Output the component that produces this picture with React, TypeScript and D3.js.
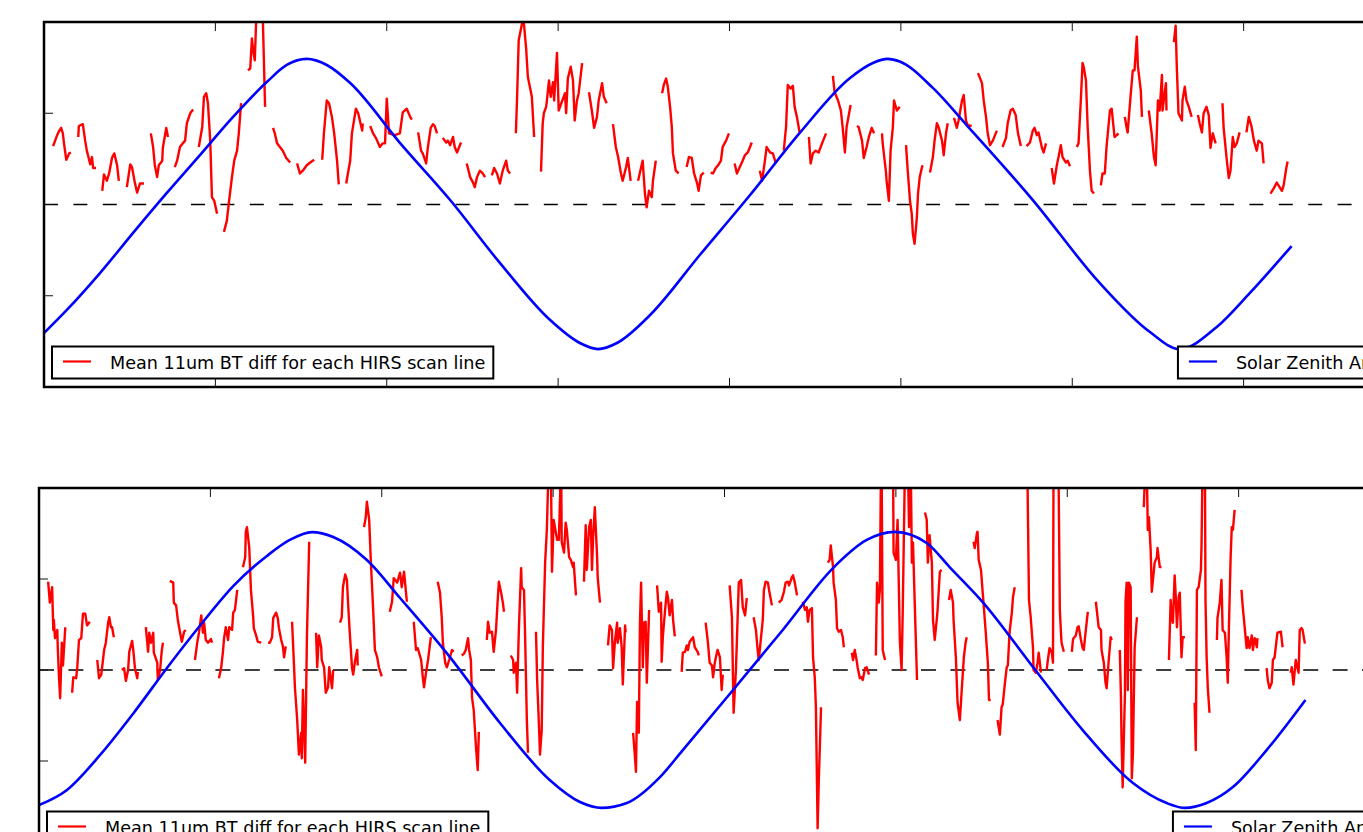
import React, { useEffect, useRef } from 'react';
import * as d3 from 'd3';

type Pt = [number, number];

// x = HIRS scan line, y = mean 11um BT difference (K); one array per unbroken run of the trace
const topBtDiff: Pt[][] = [
  [[16,0.64],[23,0.76],[26,0.80],[30,0.84],[33,0.78],[35,0.67],[39,0.49],[42,0.53],[44,0.56],[47,0.57]],
  [[60,0.74],[61,0.86],[68,0.88],[72,0.70],[75,0.59],[77,0.54],[81,0.44],[84,0.52],[86,0.40],[91,0.40]],
  [[102,0.15],[105,0.33],[110,0.26],[114,0.34],[119,0.51],[123,0.56],[128,0.43],[131,0.26]],
  [[145,0.19],[151,0.44],[154,0.41],[159,0.24],[163,0.13],[168,0.23],[175,0.23]],
  [[187,0.78],[191,0.63],[194,0.43],[198,0.30],[201,0.43],[207,0.48],[208,0.62],[214,0.84],[217,0.74]],
  [[229,0.41],[233,0.48],[238,0.63],[243,0.67],[247,0.70],[250,0.89],[256,1.00],[261,1.04]],
  [[271,0.63],[277,0.85],[280,1.18],[284,1.22],[287,1.11],[291,0.70],[294,0.08],[298,0.04],[303,-0.10]],
  [[315,-0.30],[320,-0.18],[324,0.04],[329,0.30],[333,0.48],[338,0.59],[341,0.78],[345,1.11]],
  [[357,1.47],[361,1.49],[364,1.82],[366,1.69],[369,1.58],[373,2.3],[378,2.4],[382,2.3],[387,1.07]],
  [[401,0.84],[404,0.78],[408,0.67],[413,0.63],[418,0.59],[424,0.51],[431,0.46]],
  [[443,0.45],[448,0.34],[453,0.37],[460,0.43],[466,0.46],[473,0.49]],
  [[487,0.49],[490,0.78],[495,1.14],[499,1.11],[504,0.96],[508,0.78],[513,0.48],[516,0.22]],
  [[529,0.23],[532,0.34],[536,0.48],[539,0.78],[546,1.05],[550,1.00],[557,0.81],[558,0.89]],
  [[571,0.86],[576,0.78],[581,0.73],[588,0.63],[593,0.67],[597,0.67],[600,1.16],[604,0.78],[614,0.76],[623,0.78],[628,1.01],[635,1.05],[641,0.96],[644,0.93]],
  [[655,0.79],[660,0.59],[663,0.56],[669,0.45],[672,0.63],[677,0.84],[681,0.88],[684,0.86],[688,0.78]],
  [[698,0.73],[704,0.68],[707,0.70],[711,0.65],[716,0.74],[719,0.63],[723,0.57],[730,0.68]],
  [[740,0.45],[746,0.30],[751,0.24],[754,0.19],[758,0.30],[763,0.37],[768,0.34],[772,0.30]],
  [[784,0.32],[788,0.40],[793,0.34],[798,0.23],[803,0.37],[809,0.48],[812,0.37],[816,0.34]],
  [[826,0.78],[828,1.14],[831,1.80],[837,1.99],[840,1.99],[844,1.71],[847,1.40],[854,1.18],[858,0.74]],
  [[870,0.36],[873,0.89],[875,1.00],[879,1.07],[880,1.12],[884,1.36],[887,1.18],[891,1.34],[893,1.14],[898,1.66],[901,1.03],[912,1.22],[914,1.00],[917,1.38],[922,1.51],[926,1.36],[929,0.92],[933,1.14],[936,1.22],[942,1.55]],
  [[954,1.23],[959,1.03],[963,0.84],[968,0.96],[971,1.14],[977,1.33],[980,1.18],[985,1.11]],
  [[996,0.88],[1001,0.63],[1005,0.52],[1010,0.34],[1013,0.26],[1019,0.41],[1022,0.51],[1027,0.26]],
  [[1040,0.26],[1045,0.40],[1048,0.48],[1052,0.12],[1055,-0.03],[1059,0.15],[1064,0.08],[1066,0.26],[1071,0.48]],
  [[1082,1.22],[1085,1.31],[1089,1.38],[1092,1.29],[1096,1.07],[1099,0.85],[1101,0.56],[1106,0.37],[1111,0.34]],
  [[1125,0.41],[1129,0.52],[1134,0.51],[1138,0.34],[1143,0.24],[1146,0.15],[1150,0.32],[1155,0.35]],
  [[1167,0.35],[1171,0.34],[1176,0.40],[1180,0.43],[1185,0.48],[1188,0.63],[1194,0.70],[1199,0.78]],
  [[1209,0.45],[1213,0.34],[1218,0.41],[1223,0.48],[1227,0.54],[1232,0.57],[1239,0.68]],
  [[1253,0.37],[1257,0.26],[1262,0.48],[1265,0.63],[1271,0.57],[1276,0.56],[1281,0.45]],
  [[1295,0.59],[1299,0.85],[1302,1.31],[1307,1.27],[1311,1.30],[1314,1.07],[1318,0.96],[1323,0.78]],
  [[1339,0.74],[1342,0.45],[1346,0.56],[1351,0.59],[1356,0.57],[1362,0.67],[1369,0.78]],
  [[1381,1.41],[1384,1.23],[1390,1.14],[1395,1.03],[1398,0.85],[1402,0.57],[1405,0.85],[1412,1.09]],
  [[1423,0.86],[1426,0.85],[1432,0.70],[1435,0.51],[1440,0.63],[1444,0.74],[1449,0.84],[1453,0.78]],
  [[1467,0.78],[1468,0.68],[1474,0.35],[1475,0.26],[1479,0.04],[1482,0.59],[1486,0.85],[1488,1.14],[1493,1.03],[1498,1.07]],
  [[1509,0.65],[1512,0.37],[1516,0.04],[1519,-0.10],[1521,-0.32],[1524,-0.43],[1528,-0.14],[1530,0.12],[1533,0.30],[1537,0.41],[1538,0.43]],
  [[1551,0.35],[1556,0.52],[1559,0.70],[1563,0.89],[1566,0.85],[1572,0.70],[1575,0.54],[1579,0.78],[1582,0.89]],
  [[1593,0.95],[1598,0.84],[1601,0.92],[1607,1.14],[1610,1.20],[1614,0.92],[1617,0.87],[1624,0.86]],
  [[1635,1.44],[1642,1.33],[1645,1.14],[1649,0.96],[1652,0.78],[1656,0.65],[1661,0.70],[1668,0.81]],
  [[1678,0.63],[1684,0.73],[1687,0.89],[1692,1.03],[1696,1.05],[1701,0.98],[1705,0.78],[1710,0.64]],
  [[1720,0.64],[1726,0.68],[1731,0.81],[1734,0.84],[1738,0.76],[1741,0.79],[1747,0.62],[1750,0.57],[1754,0.67]],
  [[1764,0.40],[1768,0.23],[1773,0.43],[1776,0.52],[1780,0.65],[1783,0.52],[1789,0.46],[1792,0.48],[1796,0.42]],
  [[1808,0.63],[1811,0.67],[1815,1.14],[1818,1.55],[1820,1.51],[1824,1.36],[1827,0.85],[1831,0.37],[1834,0.15],[1838,0.12]],
  [[1850,0.21],[1853,0.34],[1857,0.34],[1860,0.63],[1866,1.03],[1869,1.05],[1874,0.74],[1878,0.76],[1881,0.78]],
  [[1892,0.96],[1895,0.85],[1897,0.79],[1902,1.18],[1906,1.47],[1909,1.47],[1913,1.84],[1915,1.51],[1920,1.25],[1922,0.96]],
  [[1934,1.03],[1939,0.78],[1943,0.52],[1946,0.43],[1950,1.14],[1953,1.03],[1957,1.42],[1958,1.03],[1964,1.33],[1965,1.03]],
  [[1978,1.78],[1981,1.96],[1983,1.51],[1986,1.00],[1992,0.92],[1993,1.14],[1997,1.29],[2000,1.14],[2004,1.07],[2009,0.96]],
  [[2020,0.98],[2023,0.89],[2027,0.79],[2030,1.00],[2035,1.07],[2039,0.98],[2042,0.62],[2046,0.78],[2051,0.67]],
  [[2063,1.11],[2065,0.84],[2070,0.52],[2074,0.29],[2077,0.37],[2081,0.74],[2084,0.63],[2088,0.67],[2093,0.79]],
  [[2105,0.79],[2109,0.96],[2114,0.85],[2118,0.70],[2123,0.59],[2126,0.70],[2132,0.67],[2135,0.45]],
  [[2147,0.12],[2153,0.18],[2158,0.24],[2161,0.21],[2167,0.15],[2170,0.21],[2175,0.41],[2177,0.47]],
];

const bottomBtDiff: Pt[][] = [
  [[16,0.97],[19,0.74],[23,0.91],[25,0.44],[26,0.55],[28,0.35],[32,0.44],[33,0.22],[35,-0.08],[37,-0.31],[40,0.30],[42,0.05],[46,0.47]],
  [[58,-0.25],[60,-0.08],[65,-0.09],[67,0.03],[70,0.33],[74,0.35],[77,0.62],[81,0.62],[84,0.49],[89,0.53]],
  [[102,0.11],[105,-0.09],[109,-0.05],[112,0.11],[114,0.22],[117,0.30],[121,0.52],[123,0.58],[126,0.47],[128,0.47],[131,0.36]],
  [[145,0.00],[149,0.02],[152,-0.12],[156,0.00],[158,0.20],[163,0.32],[165,0.22],[168,0.02],[172,-0.09],[173,-0.02]],
  [[187,0.47],[191,0.20],[193,0.41],[196,0.30],[200,0.41],[201,0.19],[207,0.08],[208,-0.11],[212,0.00],[215,0.22],[217,0.30]],
  [[229,0.98],[235,0.96],[236,0.74],[240,0.71],[243,0.55],[247,0.41],[250,0.31],[254,0.42],[257,0.44]],
  [[273,0.11],[277,0.30],[280,0.41],[284,0.60],[287,0.41],[289,0.52],[292,0.33],[296,0.30],[301,0.34],[303,0.30]],
  [[315,-0.09],[319,0.03],[322,0.20],[324,0.35],[327,0.47],[331,0.33],[333,0.47],[338,0.44],[340,0.63],[343,0.66],[347,0.88]],
  [[357,1.13],[361,1.24],[362,1.52],[364,1.57],[368,1.35],[371,0.88],[375,0.58],[376,0.46],[380,0.38],[383,0.31],[389,0.30]],
  [[401,0.30],[404,0.30],[408,0.36],[410,0.57],[415,0.63],[418,0.57],[420,0.46],[424,0.33],[427,0.26],[429,0.14],[432,0.26]],
  [[443,0.53],[446,0.11],[448,-0.19],[452,-0.55],[455,-0.93],[459,-0.69],[460,-0.97],[462,-0.22],[466,-1.02],[469,0.36],[473,1.41]],
  [[485,0.41],[487,0.03],[490,0.38],[494,0.25],[495,0.11],[499,0.03],[502,-0.25],[506,-0.19],[508,0.03],[513,-0.20],[515,0.00]],
  [[527,0.52],[530,0.58],[532,0.91],[536,1.05],[539,0.99],[541,0.74],[544,0.41],[548,0.02],[550,-0.05],[553,0.09],[557,0.22],[558,0.05]],
  [[569,1.57],[572,1.68],[574,1.85],[578,1.65],[581,1.18],[585,0.66],[588,0.22],[592,0.14],[595,0.03],[600,-0.07]],
  [[614,0.64],[618,0.75],[621,1.01],[627,0.96],[632,1.07],[635,0.91],[639,1.08],[644,0.75]],
  [[656,0.53],[660,0.22],[663,0.24],[669,0.11],[672,-0.09],[674,-0.19],[677,-0.05],[681,0.11],[686,0.36]],
  [[698,0.97],[702,0.85],[705,0.58],[707,0.30],[711,0.08],[714,0.03],[718,0.11],[723,0.22],[726,0.20]],
  [[740,0.16],[744,0.18],[747,0.22],[751,0.35],[753,0.22],[756,0.11],[758,-0.30],[761,-0.44],[765,-0.85],[768,-1.10],[770,-0.68]],
  [[784,0.33],[786,0.53],[789,0.41],[793,0.42],[796,0.20],[800,0.44],[803,0.77],[805,0.97],[809,0.85],[812,0.74],[814,0.64]],
  [[826,0.16],[830,0.11],[831,-0.03],[835,0.08],[837,-0.25],[840,0.44],[844,1.12],[845,0.91],[849,0.88],[851,0.36],[854,-0.55],[856,-0.91]],
  [[870,0.42],[872,-0.11],[875,-0.58],[877,-0.93],[880,-0.66],[882,0.25],[886,1.18],[889,1.54],[891,2.00],[893,2.3],[896,2.3],[898,1.08],[901,1.65],[907,1.43],[910,1.43],[914,2.3],[915,1.41],[919,1.29],[922,1.62],[924,1.54],[928,1.24],[931,1.21],[935,1.13],[936,1.18],[940,0.82]],
  [[954,0.97],[957,1.59],[959,1.10],[963,1.57],[966,1.65],[968,1.10],[970,1.46],[973,1.79],[977,1.24],[978,1.02],[982,0.74]],
  [[996,0.27],[999,0.49],[1003,0.44],[1005,0.02],[1008,0.30],[1012,0.52],[1013,0.30],[1017,0.46],[1020,0.25],[1022,-0.16],[1026,0.49],[1027,0.41]],
  [[1040,-0.69],[1043,-0.93],[1045,-1.12],[1047,-0.35],[1050,-0.69],[1052,0.52],[1054,0.96],[1057,0.03],[1059,0.52],[1062,0.53],[1064,-0.14],[1068,0.66]],
  [[1082,0.93],[1085,0.64],[1089,0.74],[1090,0.09],[1092,0.36],[1096,0.66],[1099,0.86],[1101,0.80],[1104,0.60],[1108,0.77],[1110,0.55],[1113,0.37]],
  [[1125,-0.02],[1127,0.19],[1131,0.20],[1134,0.27],[1136,0.22],[1139,0.31],[1145,0.36],[1148,0.25],[1153,0.20],[1155,0.16]],
  [[1167,0.52],[1171,0.30],[1174,0.08],[1178,0.05],[1180,-0.08],[1183,0.08],[1187,0.20],[1188,0.22],[1192,0.14],[1195,-0.22],[1197,-0.05]],
  [[1209,0.93],[1213,0.58],[1215,-0.14],[1216,-0.47],[1220,0.00],[1223,0.58],[1225,0.96],[1229,0.99],[1232,0.69],[1236,0.60],[1239,0.79]],
  [[1251,0.58],[1255,0.44],[1258,0.22],[1260,0.11],[1264,0.36],[1267,0.55],[1269,0.88],[1272,0.97],[1276,0.96],[1278,0.88],[1283,0.71]],
  [[1295,0.74],[1300,0.77],[1304,0.86],[1307,0.96],[1311,0.97],[1313,0.93],[1318,1.02],[1320,1.04],[1323,0.96],[1327,0.82]],
  [[1337,0.75],[1341,0.66],[1344,0.69],[1346,0.53],[1349,0.66],[1353,0.68],[1355,0.14],[1358,-0.08],[1360,-0.41],[1362,-1.29],[1363,-1.74],[1365,-1.24],[1369,-0.41]],
  [[1381,1.18],[1384,1.21],[1386,1.37],[1390,1.13],[1391,0.96],[1395,0.77],[1397,0.46],[1400,0.42],[1404,0.44],[1407,0.36],[1409,0.25]],
  [[1423,0.19],[1425,0.11],[1428,0.22],[1432,0.08],[1433,0.03],[1437,-0.09],[1440,-0.08],[1442,-0.11],[1446,0.02],[1449,0.03],[1453,-0.05]],
  [[1465,0.16],[1467,0.96],[1470,0.74],[1472,0.88],[1474,2.3],[1475,2.3],[1477,0.22],[1481,0.11]],
  [[1495,2.3],[1496,1.29],[1500,1.21],[1503,1.65],[1507,0.31],[1510,0.00],[1512,0.64],[1516,2.3],[1521,2.3],[1523,1.57],[1524,2.3],[1526,2.3],[1528,1.18],[1530,1.40],[1533,0.74],[1537,-0.11]],
  [[1551,1.73],[1554,1.65],[1556,1.18],[1559,1.48],[1563,1.18],[1565,0.55],[1568,0.33],[1572,0.58],[1573,0.66],[1577,1.08],[1580,1.10]],
  [[1593,0.77],[1596,0.88],[1600,0.74],[1601,0.55],[1605,0.14],[1608,-0.36],[1612,-0.55],[1615,-0.25],[1619,0.14],[1622,0.30],[1624,0.36]],
  [[1636,1.41],[1638,1.34],[1642,1.51],[1643,1.52],[1645,1.21],[1649,1.10],[1652,0.85],[1654,0.69],[1657,0.44],[1661,0.08],[1663,-0.33],[1666,-0.33]],
  [[1678,-0.55],[1682,-0.71],[1685,-0.41],[1687,-0.38],[1691,-0.14],[1694,0.03],[1696,0.05],[1699,0.41],[1703,0.63],[1705,0.80],[1708,0.91]],
  [[1730,2.3],[1733,0.77],[1736,0.58],[1740,0.25],[1741,0.00],[1745,-0.03],[1748,0.08],[1750,0.19],[1754,-0.03]],
  [[1764,0.00],[1766,0.11],[1769,0.24],[1773,0.19],[1775,0.08],[1776,2.3],[1783,2.3],[1785,2.00],[1787,0.66],[1789,0.41],[1790,0.30],[1794,0.20]],
  [[1808,0.20],[1810,0.33],[1811,0.35],[1815,0.38],[1818,0.47],[1820,0.48],[1824,0.33],[1827,0.24],[1829,0.22],[1832,0.41],[1836,0.64]],
  [[1850,0.75],[1852,0.64],[1855,0.47],[1859,0.44],[1860,0.22],[1864,0.08],[1867,-0.14],[1869,-0.20],[1873,0.14],[1876,0.36],[1878,0.33]],
  [[1892,0.22],[1894,-0.30],[1895,-0.74],[1897,-1.29],[1901,-0.25],[1902,0.75],[1904,0.96],[1906,-0.22],[1908,0.96],[1911,0.91],[1913,-1.19],[1915,-0.91],[1918,0.25],[1922,0.58]],
  [[1934,1.79],[1937,2.3],[1939,2.3],[1941,1.54],[1943,1.68],[1946,1.32],[1948,0.86],[1950,0.99],[1953,1.18],[1957,1.24],[1958,1.34],[1962,1.13],[1965,1.13]],
  [[1978,0.11],[1981,0.77],[1983,0.58],[1985,0.52],[1988,1.04],[1990,0.80],[1992,0.47],[1995,0.80],[1997,0.85],[2000,0.14],[2002,0.36],[2006,0.36]],
  [[2023,-0.36],[2025,-0.88],[2027,0.88],[2030,0.91],[2034,1.10],[2035,1.35],[2037,2.3],[2041,2.3],[2042,0.77],[2044,0.14],[2046,-0.19],[2049,-0.47]],
  [[2062,0.33],[2063,0.57],[2067,0.74],[2070,0.99],[2072,0.44],[2076,0.41],[2079,0.14],[2081,-0.14],[2083,0.47],[2086,1.24],[2088,1.57],[2090,1.54],[2093,1.76]],
  [[2105,0.88],[2107,0.71],[2111,0.44],[2114,0.24],[2116,0.36],[2119,0.24],[2123,0.38],[2125,0.22],[2128,0.35],[2132,0.25],[2133,0.35]],
  [[2149,0.02],[2151,-0.11],[2154,-0.20],[2158,-0.14],[2160,0.11],[2163,0.14],[2167,0.36],[2168,0.41],[2174,0.42],[2177,0.25]],
  [[2191,-0.03],[2193,0.03],[2196,-0.16],[2200,0.11],[2202,0.05],[2205,-0.03],[2207,0.44],[2210,0.46],[2212,0.44],[2216,0.29]],
];

// x = HIRS scan line, y = solar zenith angle (deg)
const topSza: Pt[] = [
  [0,26.6],[40,38.0],[98,56.2],[156,76.0],[215,95.7],[273,114.4],[331,133.2],[390,150.4],[425,158.8],[460,161.8],
  [495,158.8],[536,149.9],[623,120.4],[711,92.2],[798,61.2],[886,33.0],[938,21.7],[970,18.7],[1003,21.7],[1061,35.5],
  [1148,65.1],[1236,94.7],[1323,125.3],[1411,152.4],[1451,159.8],[1477,161.8],[1498,160.5],[1556,147.5],[1615,129.2],
  [1731,92.2],[1848,51.3],[1936,27.1],[1988,18.7],[2053,29.6],[2111,46.4],[2184,69.5],
];

const bottomSza: Pt[] = [
  [0,23.2],[49,30.7],[107,48.0],[165,68.5],[224,91.0],[282,112.0],[340,131.5],[399,146.4],[439,154.3],[478,158.2],
  [515,155.8],[574,144.4],[632,125.6],[719,96.5],[807,63.8],[894,35.6],[947,24.7],[985,21.8],[1029,24.2],[1087,37.0],
  [1127,50.4],[1215,80.1],[1302,109.8],[1390,140.4],[1449,154.3],[1498,158.3],[1554,152.8],[1594,140.9],[1652,123.6],
  [1740,91.5],[1827,60.3],[1915,34.1],[1974,24.2],[2006,21.8],[2044,24.2],[2090,32.1],[2149,50.4],[2217,75.2],
];

const scanTicks = [0, 300, 600, 900, 1200, 1500, 1800, 2100, 2400];
const diffTicks = [-2, -1, 0, 1, 2];
const szaDomain: Pt = [0, 180];

const diffLabel = 'Mean 11um BT diff for each HIRS scan line';
const szaLabel = 'Solar Zenith Angle';

const AX_W = 1371;
const panels = [
  { key: 'top', left: 44, top: 22, height: 365, diff: topBtDiff, sza: topSza, dash: '14 15.4' },
  { key: 'bottom', left: 39, top: 488, height: 364, diff: bottomBtDiff, sza: bottomSza, dash: '15 14.4' },
];

function drawLegend(g: any, label: string, color: string, anchorX: number, boxTop: number, alignRight: boolean) {
  const lg = g.append('g');
  const rect = lg.append('rect')
    .attr('y', boxTop).attr('height', 32)
    .attr('fill', '#fff').attr('stroke', '#000').attr('stroke-width', 2);
  const text = lg.append('text')
    .attr('y', boxTop + 22)
    .attr('font-family', '"DejaVu Sans", sans-serif')
    .attr('font-size', 17.6)
    .attr('fill', '#000')
    .text(label);
  const tw = (text.node() as SVGTextElement).getComputedTextLength();
  const boxW = 58 + tw + 8;
  const boxX = alignRight ? anchorX - boxW : anchorX;
  rect.attr('x', boxX).attr('width', boxW);
  text.attr('x', boxX + 58);
  lg.append('line')
    .attr('x1', boxX + 11).attr('x2', boxX + 39)
    .attr('y1', boxTop + 15).attr('y2', boxTop + 15)
    .attr('stroke', color).attr('stroke-width', 2.2);
}

function drawPanel(svg: any, p: typeof panels[number]) {
  const right = p.left + AX_W;
  const bottom = p.top + p.height;
  const x = d3.scaleLinear().domain([scanTicks[0], scanTicks[scanTicks.length - 1]]).range([p.left, right]);
  const y = d3.scaleLinear().domain([diffTicks[0], diffTicks[diffTicks.length - 1]]).range([bottom, p.top]);
  const y2 = d3.scaleLinear().domain(szaDomain).range([bottom, p.top]);

  const g = svg.append('g');
  const clipId = `clip-${p.key}`;
  g.append('clipPath').attr('id', clipId)
    .append('rect').attr('x', p.left).attr('y', p.top).attr('width', AX_W).attr('height', p.height);

  // zero line
  g.append('line')
    .attr('x1', p.left).attr('x2', right)
    .attr('y1', y(0)).attr('y2', y(0))
    .attr('stroke', '#000').attr('stroke-width', 1.3)
    .attr('stroke-dasharray', p.dash);

  const plot = g.append('g').attr('clip-path', `url(#${clipId})`);

  const diffLine = d3.line<Pt>().x(d => x(d[0])).y(d => y(d[1]));
  plot.selectAll('path.diff')
    .data(p.diff)
    .join('path')
    .attr('class', 'diff')
    .attr('d', (d: Pt[]) => diffLine(d))
    .attr('fill', 'none')
    .attr('stroke', '#ff0000')
    .attr('stroke-width', 2.4)
    .attr('stroke-linejoin', 'round');

  const szaLine = d3.line<Pt>().x(d => x(d[0])).y(d => y2(d[1])).curve(d3.curveMonotoneX);
  plot.append('path')
    .attr('d', szaLine(p.sza))
    .attr('fill', 'none')
    .attr('stroke', '#0000ff')
    .attr('stroke-width', 2.6);

  // inward ticks, matplotlib classic style
  const ticks = g.append('g').attr('stroke', '#111').attr('stroke-width', 1);
  scanTicks.forEach(t => {
    ticks.append('line').attr('x1', x(t)).attr('x2', x(t)).attr('y1', p.top).attr('y2', p.top + 9);
    ticks.append('line').attr('x1', x(t)).attr('x2', x(t)).attr('y1', bottom).attr('y2', bottom - 9);
  });
  diffTicks.forEach(v => {
    ticks.append('line').attr('x1', p.left).attr('x2', p.left + 9).attr('y1', y(v)).attr('y2', y(v));
    ticks.append('line').attr('x1', right).attr('x2', right - 9).attr('y1', y(v)).attr('y2', y(v));
  });

  // spines
  g.append('rect')
    .attr('x', p.left).attr('y', p.top).attr('width', AX_W).attr('height', p.height)
    .attr('fill', 'none').attr('stroke', '#000').attr('stroke-width', 2.5);

  const boxTop = bottom - 8.5 - 32;
  drawLegend(g, diffLabel, '#ff0000', p.left + 8, boxTop, false);
  drawLegend(g, szaLabel, '#0000ff', right - 8, boxTop, true);
}

export default function App() {
  const ref = useRef<SVGSVGElement>(null);

  useEffect(() => {
    const svg = d3.select(ref.current);
    svg.selectAll('*').remove();
    panels.forEach(p => drawPanel(svg, p));
  }, []);

  return (
    <svg
      ref={ref}
      width={1363}
      height={832}
      style={{ position: 'absolute', left: 0, top: 0, background: '#fff' }}
    />
  );
}
